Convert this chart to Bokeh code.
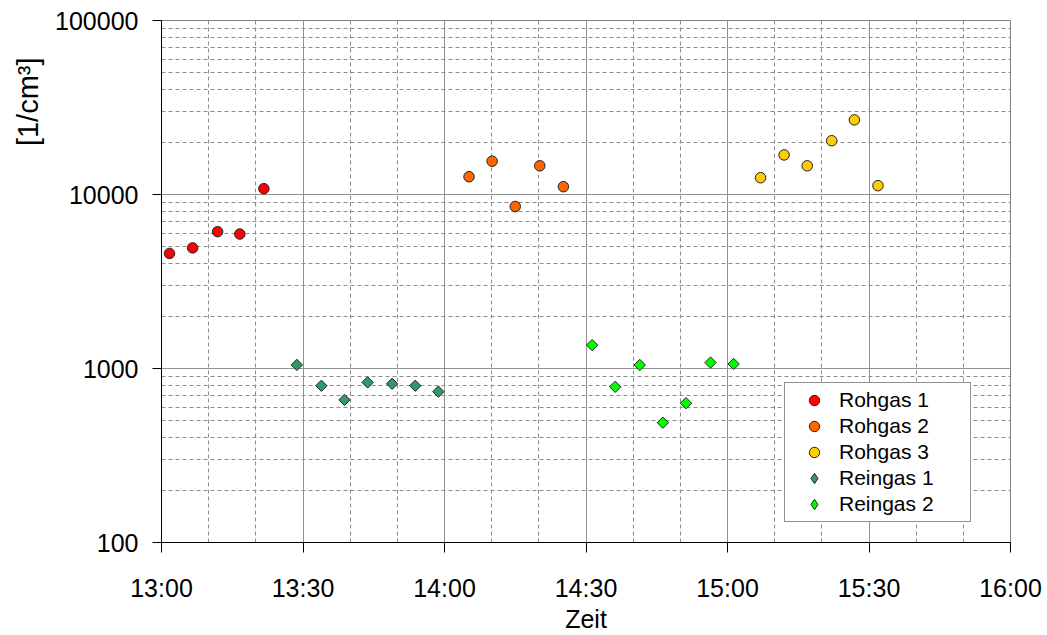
import numpy as np
from bokeh.plotting import figure
from bokeh.models import Range1d, FixedTicker, Legend, LegendItem, Title
from bokeh.embed import file_html
from bokeh.resources import INLINE

# ---- data (minutes after 13:00, particle concentration in 1/cm³) ----
rohgas1_t = [1.7, 6.6, 11.9, 16.6, 21.7]
rohgas1_v = [4585, 4934, 6117, 5927, 10805]

reingas1_t = [28.7, 33.9, 38.8, 43.7, 48.9, 53.8, 58.7]
reingas1_v = [1048, 796, 660, 832, 817, 796, 736]

rohgas2_t = [65.2, 70.1, 75.0, 80.2, 85.2]
rohgas2_v = [12650, 15540, 8530, 14620, 11090]

reingas2_t = [91.3, 96.2, 101.4, 106.3, 111.2, 116.4, 121.3]
reingas2_v = [1363, 785, 1048, 488, 632, 1082, 1062]

rohgas3_t = [127.0, 132.0, 136.9, 142.1, 146.9, 151.9]
rohgas3_v = [12485, 16885, 14620, 20370, 26840, 11240]

x_ticks = [0, 30, 60, 90, 120, 150, 180]
x_tick_labels = ["13:00", "13:30", "14:00", "14:30", "15:00", "15:30", "16:00"]
x_minor = [m for m in range(0, 181, 10) if m % 30 != 0]

y_ticks = [100, 1000, 10000, 100000]
y_tick_labels = ["100", "1000", "10000", "100000"]
y_minor = [k * d for d in (100, 1000, 10000) for k in range(2, 10)]

FONT = "Liberation Sans"

p = figure(width=1047, height=635,
           x_range=Range1d(0, 180), y_range=Range1d(100, 100000),
           y_axis_type="log", output_backend="svg", toolbar_location=None,
           min_border_left=160, min_border_right=37,
           min_border_top=20, min_border_bottom=89)
p.background_fill_color = "white"
p.border_fill_color = "white"
p.outline_line_color = "#808080"
p.outline_line_width = 1

# grids
for g in (p.xgrid, p.ygrid):
    g.grid_line_color = "#909090"
    g.grid_line_width = 1
    g.minor_grid_line_color = "#8c8c8c"
    g.minor_grid_line_dash = "4 3"
    g.minor_grid_line_width = 1

# x axis
xa = p.xaxis[0]
xa.ticker = FixedTicker(ticks=x_ticks, minor_ticks=x_minor)
xa.major_label_overrides = {t: l for t, l in zip(x_ticks, x_tick_labels)}
xa.axis_line_color = "black"
xa.major_tick_line_color = "black"
xa.major_tick_out = 10
xa.major_tick_in = 0
xa.minor_tick_out = 0
xa.minor_tick_in = 0
xa.major_label_text_font = FONT
xa.major_label_text_font_size = "25px"
xa.major_label_text_color = "black"
xa.major_label_standoff = 21
xa.axis_label = "Zeit"
xa.axis_label_text_font = FONT
xa.axis_label_text_font_size = "25px"
xa.axis_label_text_font_style = "normal"
xa.axis_label_text_color = "black"
xa.axis_label_standoff = 0

# y axis
ya = p.yaxis[0]
ya.ticker = FixedTicker(ticks=y_ticks, minor_ticks=y_minor)
ya.major_label_overrides = {t: l for t, l in zip(y_ticks, y_tick_labels)}
ya.axis_line_color = "black"
ya.major_tick_line_color = "black"
ya.major_tick_out = 9
ya.major_tick_in = 0
ya.minor_tick_out = 0
ya.minor_tick_in = 0
ya.major_label_text_font = FONT
ya.major_label_text_font_size = "25px"
ya.major_label_text_color = "black"
ya.major_label_standoff = 14

ytitle = Title(text="[1/cm³]", align="right", offset=37, standoff=18,
               text_font=FONT, text_font_size="29px",
               text_font_style="normal", text_color="black")
p.add_layout(ytitle, "left")

# series
series = [
    ("Rohgas 1", rohgas1_t, rohgas1_v, "circle", "#FF0000"),
    ("Rohgas 2", rohgas2_t, rohgas2_v, "circle", "#FF6600"),
    ("Rohgas 3", rohgas3_t, rohgas3_v, "circle", "#FFCC00"),
    ("Reingas 1", reingas1_t, reingas1_v, "diamond", "#339966"),
    ("Reingas 2", reingas2_t, reingas2_v, "diamond", "#00FF00"),
]
items = []
for name, t, v, mk, col in series:
    if mk == "circle":
        r = p.scatter(t, v, marker="circle", size=10.5, fill_color=col,
                      line_color="#222222", line_width=1)
        items.append(LegendItem(label=name, renderers=[r]))
    else:
        r = p.scatter(t, v, marker="square", size=8, angle=np.pi / 4,
                      fill_color=col, line_color="#222222", line_width=1)
        # legend swatch: hidden diamond renderer (legend swatches ignore angle)
        key = p.scatter(t, v, marker="diamond", fill_color=col,
                        line_color="#222222", line_width=1, visible=False)
        items.append(LegendItem(label=name, renderers=[key]))

legend = Legend(items=items, location=(623, 20))
legend.label_text_font = FONT
legend.label_text_font_size = "21px"
legend.label_text_color = "black"
legend.glyph_width = 50
legend.glyph_height = 26
legend.label_height = 26
legend.label_width = 127
legend.label_standoff = 0
legend.spacing = 0
legend.padding = 4
legend.margin = 0
legend.border_line_color = "#222222"
legend.border_line_width = 1
legend.background_fill_color = "white"
legend.background_fill_alpha = 1
p.add_layout(legend)

open("out.html", "w").write(file_html(p, INLINE))
